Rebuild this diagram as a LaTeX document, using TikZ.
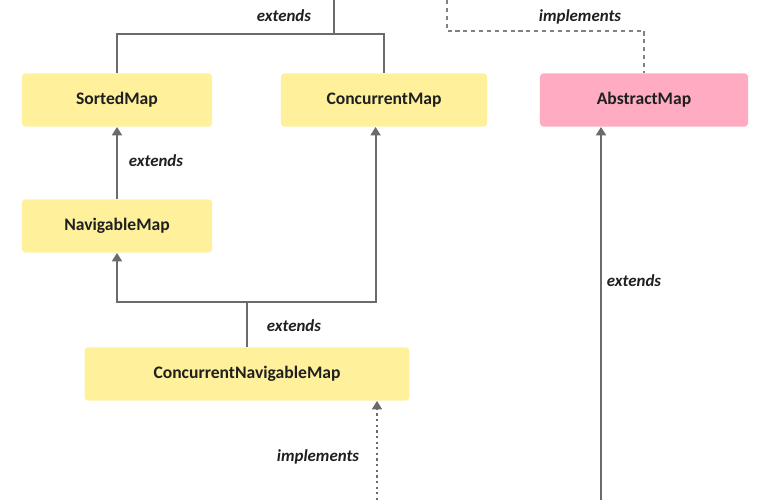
\documentclass[tikz,border=0pt]{standalone}
\usepackage{fontspec}
\setmainfont{Carlito}
\usepackage{tikz}
\usetikzlibrary{calc, arrows.meta}

\definecolor{boxyellow}{HTML}{FFF09B}
\definecolor{boxpink}{HTML}{FFABC1}
\definecolor{linegray}{HTML}{6B6B6B}

\tikzset{
  cls/.style={rounded corners=2.5pt,minimum width=4.75cm,minimum height=1.33cm,
    font=\fontsize{12.5}{14}\selectfont\bfseries,text=black!88,inner sep=0pt},
  yel/.style={cls,fill=boxyellow},
  pnk/.style={cls,fill=boxpink},
  rel/.style={draw=linegray,line width=1.5pt},
  relarrow/.style={rel,-{Triangle[length=6pt,width=7pt]}},
  lbl/.style={font=\fontsize{12}{14}\selectfont\bfseries\itshape,text=black!88,inner sep=1pt},
}

\begin{document}
\begin{tikzpicture}[x=0.025cm,y=-0.025cm]
  \useasboundingbox (0,0) rectangle (775,500);
  % クラス
  \node[yel] (sm) at (117,100) {SortedMap};
  \node[yel,minimum width=5.15cm] (cm) at (384,100) {ConcurrentMap};
  \node[pnk,minimum width=5.2cm] (am) at (644,100) {AbstractMap};
  \node[yel] (nm) at (117,226) {NavigableMap};
  \node[yel,minimum width=8.12cm] (cnm) at (247,374) {ConcurrentNavigableMap};
  % 上の継承
  \coordinate (ext1) at (334,0);
  \coordinate (j1) at (334,34);
  \draw[rel] (ext1) -- (j1) -| (sm);
  \draw[rel] (j1) -| (cm);
  \node[lbl] (l1) at (284,16) {extends};
  % 上の実装
  \coordinate (imp1) at (447,0);
  \coordinate (imp2) at (447,31);
  \draw[draw=linegray!85,line width=1.3pt,dash pattern=on 3pt off 2.6pt] (imp1) -- (imp2) -| (am);
  \node[lbl] (l2) at (580,17) {implements};
  % NavigableMap -> SortedMap
  \draw[relarrow] (nm) -- (sm);
  \node[lbl] (l3) at (156,161) {extends};
  % ConcurrentNavigableMap
  \coordinate (j2) at (247,302);
  \draw[rel] (cnm) -- (j2);
  \draw[relarrow] (j2) -| (nm);
  \draw[relarrow] (j2) -| ([xshift=-6]cm.south);
  \node[lbl] (l4) at (294,326) {extends};
  % 下の実装
  \coordinate (imp3) at (377,500);
  \draw[draw=linegray,line width=1.3pt,dash pattern=on 1.6pt off 2.4pt,-{Triangle[length=6pt,width=7pt]}] (imp3) -- (imp3 |- cnm.south);
  \node[lbl] (l5) at (318,457) {implements};
  % AbstractMap
  \coordinate (ext3) at (601,500);
  \draw[relarrow] (ext3) -- (ext3 |- am.south);
  \node[lbl] (l6) at (634,281) {extends};
\end{tikzpicture}
\end{document}
